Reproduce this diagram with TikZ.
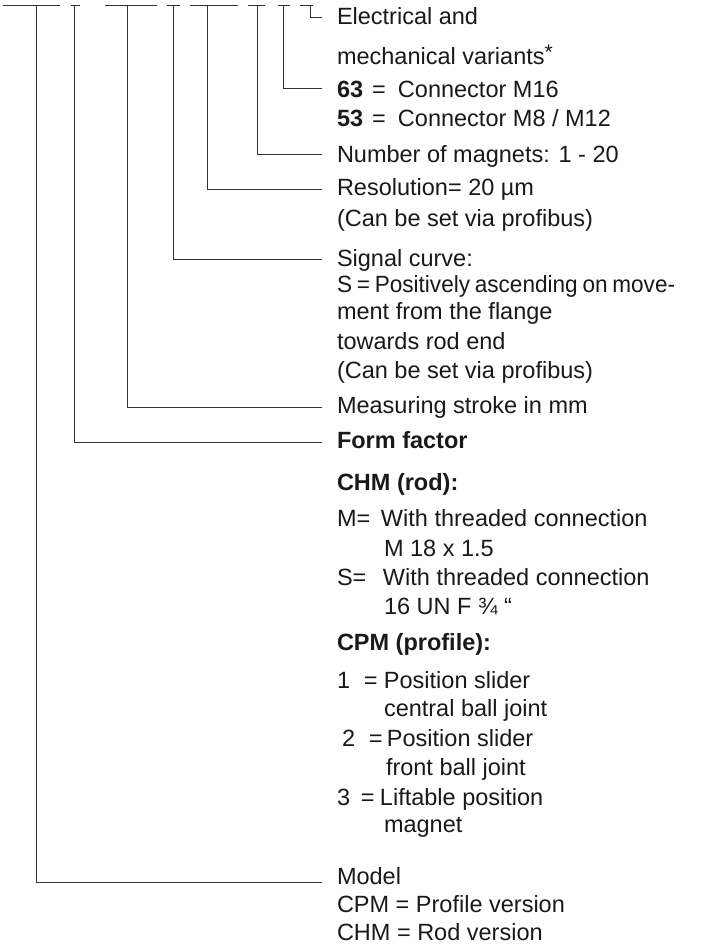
\documentclass[tikz,border=0pt]{standalone}
\usepackage{fontspec}
\setmainfont{Liberation Sans}
\begin{document}
\begin{tikzpicture}[x=1pt,y=-1pt,
  leader/.style={draw=black!80, line width=0.8pt},
  lbl/.style={anchor=base west, inner sep=0pt, outer sep=0pt,
    font=\fontsize{23.5}{28}\selectfont, text=black!90}]
\useasboundingbox (0,0) rectangle (702,944);
% top bars
\foreach \a/\b/\n in {3/60/A,71/80/B,105/157/C,167/180/D,190/238/E,248/265/F,278/290/G,300/313/H}{
  \coordinate (bar\n l) at (\a,5);
  \coordinate (bar\n r) at (\b,5);
  \draw[leader] (bar\n l) -- (bar\n r);
}
% leader start points and ends
\foreach \x/\y/\n in {36/882/A,74/442/B,127/407/C,173/259/D,207/189/E,257/154/F,283/88/G,310/17/H}{
  \coordinate (top\n) at (\x,5);
  \coordinate (end\n) at (322,\y);
  \draw[leader] (top\n) |- (end\n);
}
% labels
\node[lbl] (n1a) at (337,25) {Electrical and};
\node[lbl] (n1b) at (337,65) {mechanical variants{\fontsize{21}{21}\selectfont\raisebox{5pt}{*}}};
\node[lbl] (n2a) at (337,98) {\makebox[35pt][l]{\textbf{63}}\makebox[26pt][l]{=}Connector M16};
\node[lbl] (n2b) at (337,127) {\makebox[35pt][l]{\textbf{53}}\makebox[26pt][l]{=}Connector M8 / M12};
\node[lbl] (n3) at (337,163) {Number of magnets: 1 - 20};
\node[lbl] (n4a) at (337,196) {Resolution= 20 µm};
\node[lbl] (n4b) at (337,226) {(Can be set via profibus)};
\node[lbl] (n5a) at (337,266) {Signal curve:};
\node[lbl] (n5b) at (337,292) {\scalebox{0.96}[1]{\spaceskip=5pt S = Positively ascending on move-}};
\node[lbl] (n5c) at (337,319) {ment from the flange};
\node[lbl] (n5d) at (337,349) {towards rod end};
\node[lbl] (n5e) at (337,378) {(Can be set via profibus)};
\node[lbl] (n6) at (337,413) {Measuring stroke in mm};
\node[lbl] (n7) at (337,448) {\textbf{Form factor}};
\node[lbl] (n8) at (337,490) {\textbf{CHM (rod):}};
\node[lbl] (n9a) at (337,526) {\makebox[44pt][l]{M=}With threaded connection};
\node[lbl] (n9b) at (384,556) {M 18 x 1.5};
\node[lbl] (n9c) at (337,585) {\makebox[46pt][l]{S=}With threaded connection};
\node[lbl] (n9d) at (384,614) {16 UN F ¾ “};
\node[lbl] (n10) at (337,650) {\textbf{CPM (profile):}};
\node[lbl] (n11a) at (337,688) {\makebox[27pt][l]{1}\makebox[20pt][l]{=}Position slider};
\node[lbl] (n11b) at (384,716) {central ball joint};
\node[lbl] (n11c) at (342,746) {\makebox[27pt][l]{2}\makebox[18pt][l]{=}Position slider};
\node[lbl] (n11d) at (386,775) {front ball joint};
\node[lbl] (n11e) at (337,805) {\makebox[24pt][l]{3}\makebox[19pt][l]{=}Liftable position};
\node[lbl] (n11f) at (384,832) {magnet};
\node[lbl] (n12a) at (337,884) {Model};
\node[lbl] (n12b) at (337,912) {CPM = Profile version};
\node[lbl] (n12c) at (337,940) {CHM = Rod version};
\end{tikzpicture}
\end{document}
